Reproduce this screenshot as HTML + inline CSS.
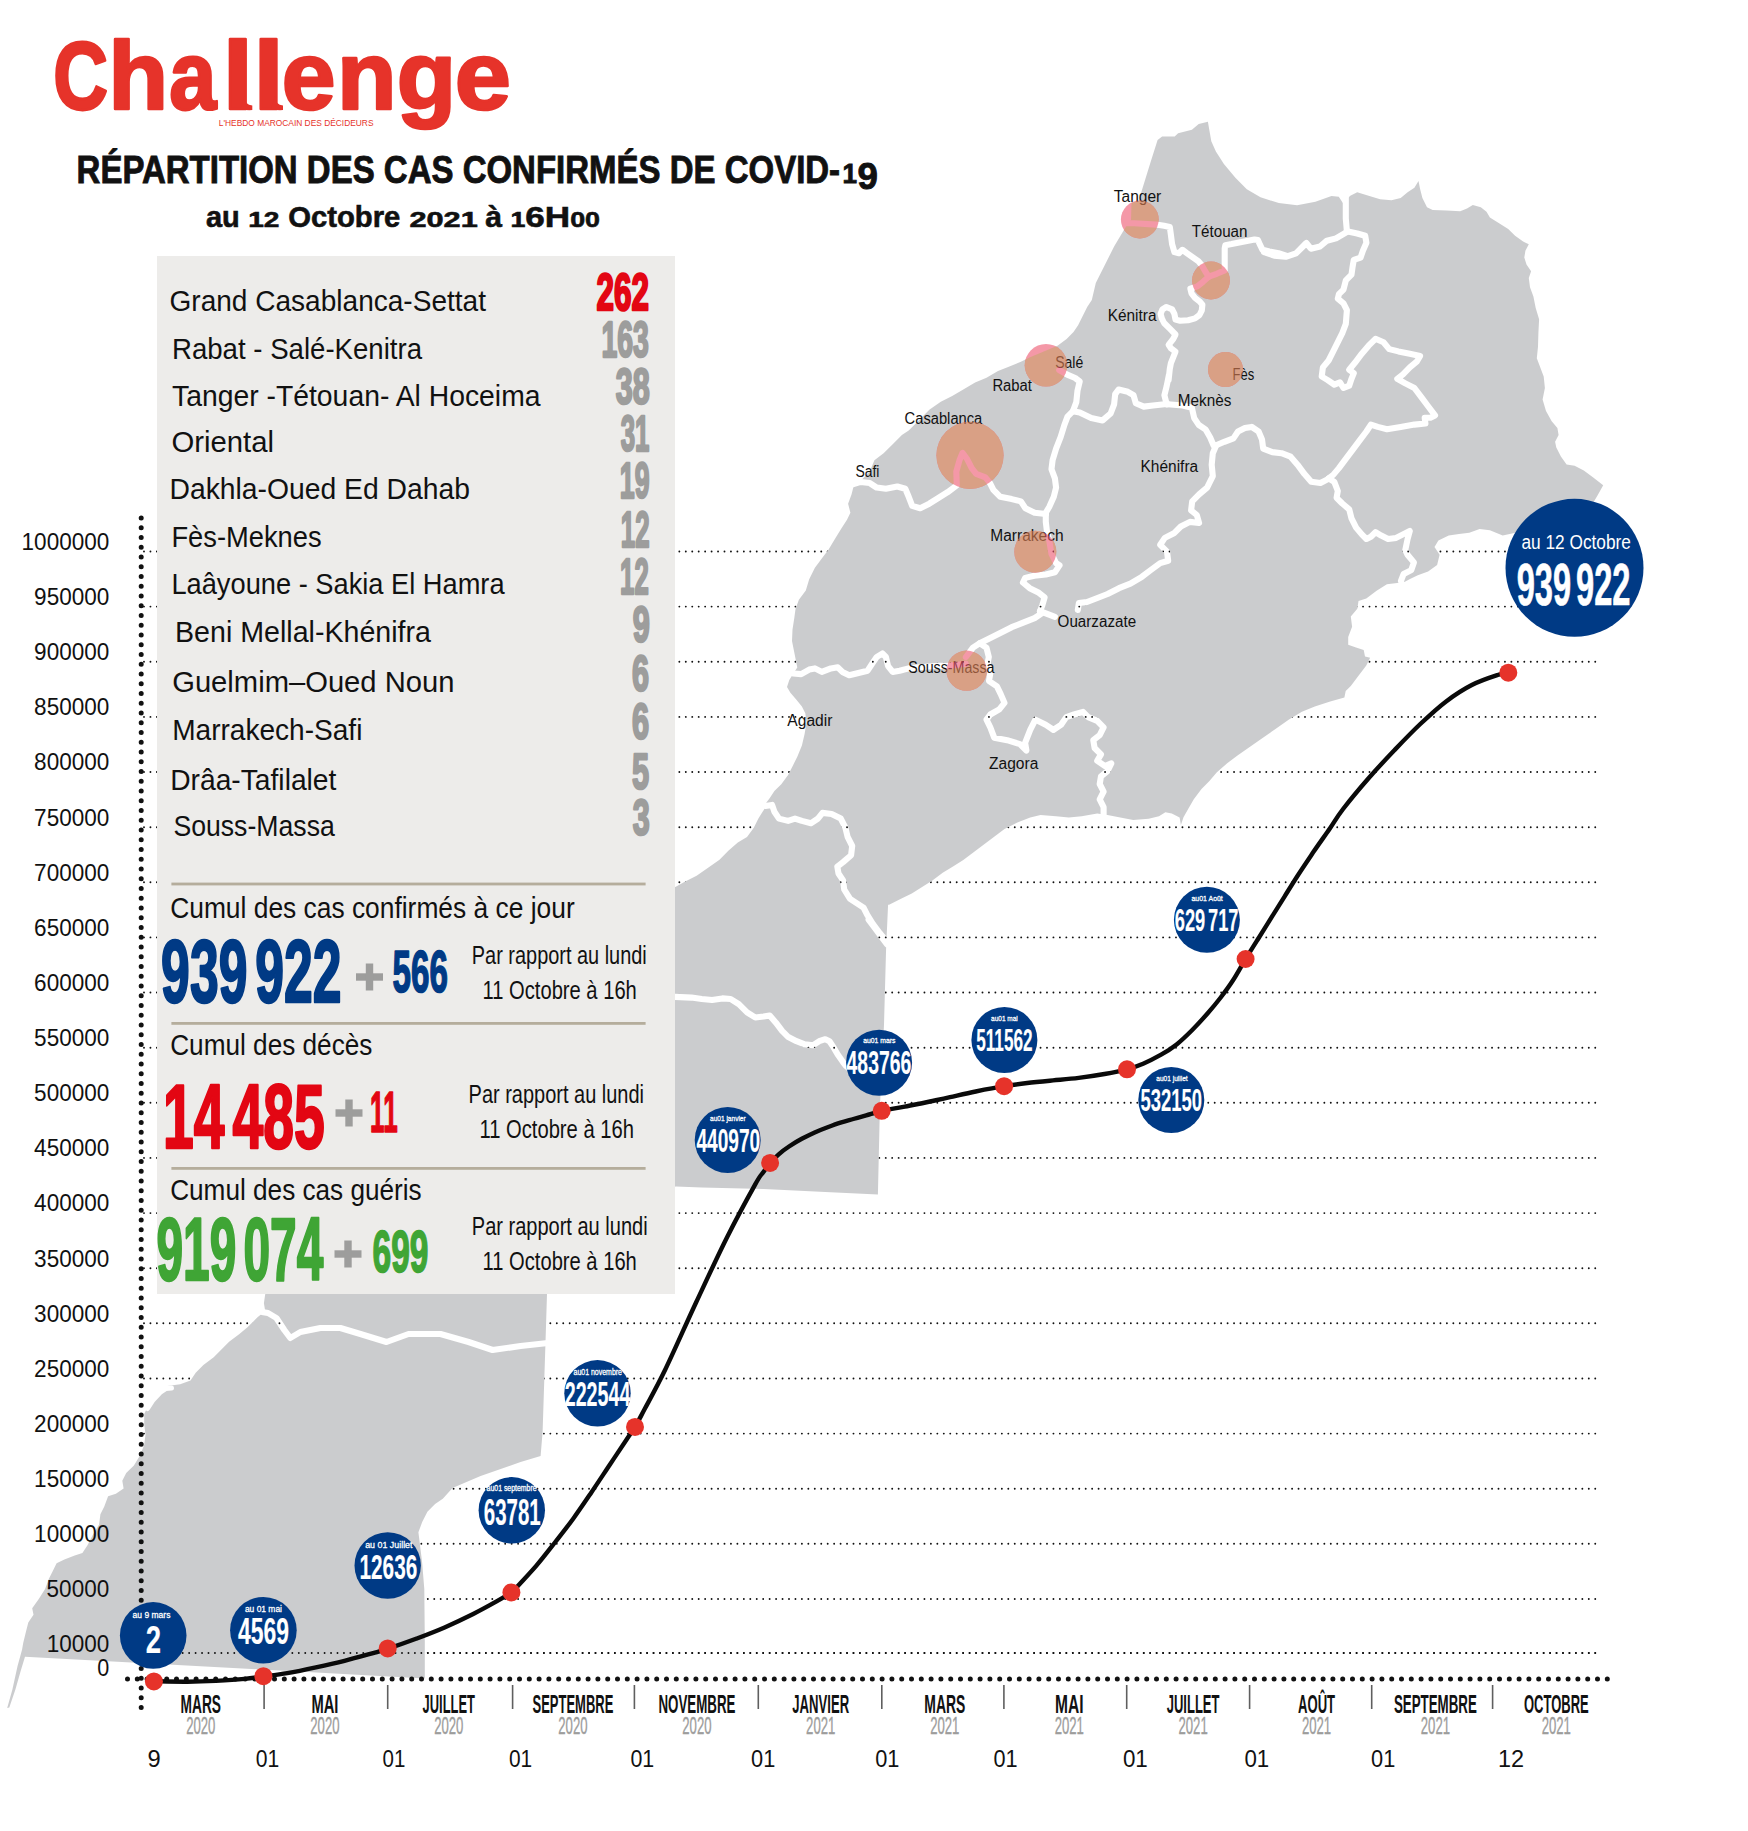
<!DOCTYPE html>
<html><head><meta charset="utf-8"><title>Covid-19 Maroc</title>
<style>html,body{margin:0;padding:0;background:#fff}svg{display:block}</style></head>
<body>
<svg width="1748" height="1831" viewBox="0 0 1748 1831" font-family='"Liberation Sans", sans-serif'>
<rect width="1748" height="1831" fill="#fff"/>
<defs>
<mask id="mapmask" maskUnits="userSpaceOnUse" x="0" y="0" width="1748" height="1831">
<polygon points="1207.9,121.7 1209.5,130.9 1211.3,141.2 1215.9,151.5 1223.9,164.1 1235.4,177.8 1246.8,189.2 1260.5,197.3 1278.8,203.0 1297.1,205.3 1315.4,201.8 1331.5,196.1 1338.8,196.8 1342.9,203.0 1350.3,195.8 1357.2,192.3 1368.6,195.8 1380.1,199.2 1391.5,200.3 1400.7,198.1 1407.6,192.3 1414.4,187.8 1418.5,180.9 1420.1,188.9 1422.4,198.1 1427.0,207.2 1432.7,210.0 1446.5,210.6 1460.2,211.3 1467.0,208.4 1472.8,204.9 1480.8,207.2 1486.5,211.8 1489.9,217.5 1499.1,223.2 1508.2,228.9 1515.1,235.8 1523.1,241.5 1528.8,244.3 1525.4,250.7 1524.3,257.6 1526.5,264.4 1531.1,271.3 1528.8,278.1 1530.0,287.3 1533.4,296.5 1535.7,307.9 1539.1,319.3 1538.4,333.1 1538.0,346.8 1536.8,358.2 1540.3,367.4 1543.7,376.5 1544.9,388.0 1542.6,399.4 1546.0,410.9 1551.7,421.2 1557.4,428.0 1558.6,434.9 1555.1,441.8 1556.3,447.5 1560.9,456.6 1566.6,464.6 1574.6,465.8 1583.8,470.4 1592.9,477.2 1603.2,485.2 1597.5,495.5 1594.1,501.3 1575.0,520.0 1502.7,535.4 1489.9,530.2 1479.6,528.9 1469.3,532.8 1459.0,534.1 1448.7,535.4 1438.4,540.5 1434.5,546.9 1439.6,554.7 1437.1,565.0 1428.1,571.4 1417.8,575.3 1410.0,579.1 1404.9,581.7 1397.2,583.0 1386.9,584.3 1376.6,590.7 1366.3,598.4 1358.5,601.0 1357.3,608.7 1350.8,616.5 1352.1,626.8 1348.2,637.1 1348.2,644.8 1356.0,647.4 1363.7,649.9 1365.0,656.4 1370.1,657.7 1366.3,665.4 1358.5,675.7 1350.8,686.0 1345.7,691.1 1344.4,697.6 1330.2,701.4 1314.8,706.6 1301.9,711.7 1289.0,719.4 1276.2,728.5 1263.3,737.5 1250.4,746.5 1237.5,755.5 1227.2,763.2 1216.9,772.2 1209.2,781.2 1201.5,789.0 1193.8,799.3 1188.6,808.3 1183.5,817.3 1180.9,825.0 1179.6,817.5 1171.8,813.6 1165.4,812.3 1159.0,816.2 1148.7,818.8 1133.2,820.0 1120.3,817.5 1107.5,814.9 1097.2,813.6 1081.7,816.2 1068.8,817.5 1056.0,816.2 1040.5,814.9 1030.2,817.5 1017.4,822.6 1004.5,829.1 994.2,836.8 983.9,844.5 973.6,852.2 963.3,859.9 953.0,866.4 942.7,872.8 932.4,880.5 922.1,887.0 911.8,893.4 901.5,898.6 888.6,905.0 888.1,904.3 886.1,948.6 884.0,1024.7 879.9,1107.1 877.9,1194.6 825.3,1192.0 763.6,1189.1 701.8,1187.4 676.0,1186.4 600.0,1200.0 547.0,1290.0 547.0,1294.0 545.5,1342.0 542.6,1432.0 540.6,1456.0 520.6,1462.0 480.6,1476.0 452.5,1488.0 442.8,1498.8 435.1,1504.0 427.4,1511.7 422.2,1522.0 418.4,1532.3 419.7,1542.6 422.2,1563.2 424.3,1589.0 424.8,1640.5 424.8,1678.5 257.5,1669.3 25.0,1656.7 20.6,1671.3 15.4,1689.4 9.3,1707.4 7.2,1707.9 12.4,1689.4 17.5,1666.2 22.1,1649.5 23.2,1643.0 25.7,1632.7 28.3,1622.4 33.5,1614.7 32.2,1608.3 38.6,1599.3 45.1,1589.0 48.9,1578.7 52.8,1570.9 56.6,1563.2 64.4,1559.4 74.7,1555.5 82.4,1552.9 87.5,1545.2 92.7,1534.9 99.1,1524.6 100.4,1514.3 104.3,1506.6 108.1,1496.3 115.9,1493.7 123.6,1488.5 122.3,1480.8 126.2,1473.1 133.9,1465.4 140.3,1455.1 144.2,1444.8 145.5,1434.5 144.2,1424.2 144.2,1413.9 149.3,1403.6 157.1,1393.3 167.4,1386.1 180.2,1384.3 190.5,1380.4 195.7,1372.7 203.4,1365.0 213.7,1357.2 221.4,1349.5 229.1,1341.8 239.4,1334.1 247.2,1327.6 253.6,1321.2 257.5,1317.3 265.2,1310.9 263.9,1303.2 265.2,1294.2 674.9,887.2 685.2,881.5 696.6,875.8 708.1,867.8 719.5,859.8 728.6,850.6 737.8,842.6 747.0,836.9 753.8,827.7 758.4,818.6 764.1,809.4 766.4,802.6 769.8,798.0 774.4,791.1 781.3,784.3 788.1,775.1 792.7,765.9 797.3,756.8 801.9,745.4 804.6,733.9 806.5,722.5 805.3,713.3 801.9,706.5 796.2,699.6 790.4,692.7 787.0,687.0 789.3,680.1 792.7,674.4 797.3,667.6 794.3,652.4 792.0,641.0 792.5,629.5 794.3,618.1 795.5,608.9 798.9,599.8 805.8,590.6 809.2,579.2 814.9,567.7 821.8,558.6 828.6,549.4 835.5,538.0 841.2,528.8 847.0,519.7 850.4,512.8 848.1,503.7 851.5,494.5 853.8,485.4 860.7,480.8 869.8,471.6 874.4,460.2 883.6,453.3 892.7,444.2 901.9,435.0 908.7,430.4 920.2,419.0 929.3,409.8 940.8,401.8 952.2,396.1 963.7,389.2 975.1,382.4 986.5,377.8 998.0,370.9 1009.4,366.4 1020.9,361.8 1030.0,357.2 1043.8,351.5 1057.5,345.8 1066.6,338.9 1073.5,332.0 1078.1,325.2 1082.7,316.0 1087.2,306.9 1091.8,300.0 1095.8,283.1 1114.1,246.5 1127.8,223.6 1131.0,220.1 1131.5,203.0 1139.2,200.5 1141.5,191.5 1150.7,161.8 1157.6,140.0 1162.1,136.6 1174.7,136.6 1178.1,133.2 1191.9,129.7 1198.7,124.0" fill="#fff"/>
<polyline points="1345.8,192.3 1345.8,207.2 1345.8,218.6 1346.9,231.2" fill="none" stroke="#000" stroke-width="6.1" stroke-linejoin="round" stroke-linecap="round"/>
<polyline points="1346.9,231.2 1357.2,233.5 1365.2,235.8 1366.4,242.7 1362.9,250.7 1360.6,257.6 1353.8,259.8 1352.6,266.7 1351.5,274.7 1345.8,280.4 1343.5,289.6 1338.9,294.2 1337.8,298.7 1343.5,303.3 1346.9,310.2 1345.8,323.9 1342.3,333.1 1337.8,342.2 1333.2,351.4 1328.6,360.5 1322.9,367.4 1321.7,376.5 1327.5,380.0 1334.3,384.6 1340.0,382.3 1343.5,388.0 1349.2,385.7 1351.5,378.8 1353.8,373.1 1349.2,369.7 1354.9,362.8 1361.8,353.7 1368.6,345.7 1375.5,338.8 1383.5,342.2 1389.2,349.1 1398.4,351.4 1409.8,353.7 1420.1,355.9 1416.7,361.7 1409.8,367.4 1403.0,374.3 1397.3,378.8 1405.3,383.4 1414.4,388.0 1421.3,397.1 1428.1,406.3 1435.0,415.4 1430.4,417.7 1424.7,417.7 1425.4,423.5 1414.4,424.6 1400.7,426.9 1387.0,429.2 1377.8,426.9 1370.9,424.6 1366.4,431.5 1359.5,440.6 1352.6,449.8 1345.8,458.9 1338.9,468.1 1333.2,474.9 1328.6,478.4" fill="none" stroke="#000" stroke-width="6.1" stroke-linejoin="round" stroke-linecap="round"/>
<polyline points="1329.5,478.4 1320.4,483.0 1311.2,481.8 1304.3,473.8 1297.5,464.7 1290.6,456.7 1281.5,453.2 1272.3,452.1 1263.2,448.6 1262.0,439.5 1258.6,431.5 1251.7,426.9 1244.9,428.1 1238.0,431.5 1233.4,438.4 1224.3,441.8 1216.2,445.2" fill="none" stroke="#000" stroke-width="6.1" stroke-linejoin="round" stroke-linecap="round"/>
<polyline points="1328.6,478.4 1334.3,481.8 1337.8,491.0 1336.6,497.8 1342.3,503.5 1349.2,509.3 1351.5,518.4 1356.1,527.6 1361.8,534.4 1366.4,539.0 1370.9,536.7 1375.5,532.2 1381.2,535.6 1388.1,539.0 1396.1,537.9 1403.0,534.4 1409.8,531.0 1407.6,539.0 1405.3,550.0 1407.5,554.7 1413.9,562.4 1411.3,570.1 1403.6,574.0 1401.0,580.9" fill="none" stroke="#000" stroke-width="6.1" stroke-linejoin="round" stroke-linecap="round"/>
<polyline points="1347.5,231.6 1336.0,238.4 1326.9,240.7 1320.0,246.5 1310.9,248.7 1306.3,243.0 1302.9,246.5 1296.0,253.3 1285.7,256.8 1274.3,255.6 1264.0,252.2 1287.6,256.1 1278.5,253.2 1269.3,251.5 1262.5,249.8 1260.2,245.2 1257.9,240.1 1254.5,239.5 1243.0,241.8 1231.6,244.1 1225.3,245.2 1224.7,248.6 1224.7,260.1 1224.7,270.4 1216.7,273.8 1208.7,276.7" fill="none" stroke="#000" stroke-width="6.1" stroke-linejoin="round" stroke-linecap="round"/>
<polyline points="1126.3,223.2 1134.3,223.2 1156.1,224.6 1164.1,225.8 1169.8,226.9 1170.9,234.9 1172.1,244.1 1174.4,252.1 1178.9,253.2 1182.4,249.8 1187.0,253.2 1192.7,257.2 1198.4,261.2 1201.8,265.2 1205.3,271.5 1208.7,276.7" fill="none" stroke="#000" stroke-width="6.1" stroke-linejoin="round" stroke-linecap="round"/>
<polyline points="1208.7,276.7 1203.0,281.8 1197.3,286.4 1190.4,288.7 1191.5,293.3 1195.0,297.8 1199.5,301.3 1202.4,304.7 1201.8,310.4 1199.5,315.0 1195.0,318.4 1188.1,320.2 1180.1,320.7 1175.5,319.6 1174.4,313.9 1172.1,309.3 1166.4,307.0 1162.4,309.3 1160.6,313.9 1161.8,318.4 1164.1,323.0 1169.8,328.7 1175.5,334.5 1173.2,339.0 1168.6,344.8 1170.9,348.2 1175.5,351.6 1173.2,357.3 1170.9,363.1 1169.8,368.8 1168.6,380.0 1169.0,374.6 1166.7,386.0 1164.4,395.2 1166.7,404.3" fill="none" stroke="#000" stroke-width="6.1" stroke-linejoin="round" stroke-linecap="round"/>
<polyline points="1059.2,370.0 1067.2,374.6 1075.2,378.0 1079.7,381.5 1077.5,390.6 1076.3,402.1 1072.9,411.2 1073.2,410.9 1067.5,416.6 1064.1,425.8 1060.6,437.2 1056.1,448.6 1052.6,460.1 1051.5,469.2 1054.9,478.4 1056.1,487.6 1053.8,496.7 1049.2,507.0 1045.8,512.7 1045.8,521.9 1046.9,531.0 1049.2,540.2 1051.5,553.9 1056.1,563.1 1059.5,565.4 1054.9,572.2 1045.8,574.5 1034.3,575.7 1025.2,577.9 1022.9,582.5 1029.7,588.2 1038.9,592.8 1044.6,597.4 1042.3,605.4 1040.0,611.1" fill="none" stroke="#000" stroke-width="6.1" stroke-linejoin="round" stroke-linecap="round"/>
<polyline points="1072.9,411.2 1079.7,412.4 1091.2,418.1 1102.6,420.4 1110.6,413.5 1114.1,404.3 1115.2,394.1 1118.6,389.5 1127.8,391.8 1133.5,395.2 1135.8,403.2 1143.8,406.6 1153.0,405.5 1164.4,404.3 1167.8,404.3" fill="none" stroke="#000" stroke-width="6.1" stroke-linejoin="round" stroke-linecap="round"/>
<polyline points="1167.8,404.3 1182.7,405.5 1191.9,407.8 1194.2,418.1 1198.7,424.9 1205.6,429.5 1210.2,437.5 1213.6,445.5" fill="none" stroke="#000" stroke-width="6.1" stroke-linejoin="round" stroke-linecap="round"/>
<polyline points="1216.2,445.2 1212.8,453.2 1211.7,464.7 1212.8,476.1 1207.1,487.6 1199.1,494.4 1192.2,501.3 1191.1,510.4 1196.8,515.0 1199.1,523.0 1189.9,521.9 1180.8,526.5 1173.9,533.3 1164.8,537.9 1160.2,544.8 1167.0,551.6 1168.2,560.8 1160.2,563.1 1151.0,569.9 1141.9,576.8 1130.4,583.7 1119.0,588.2 1107.6,594.0 1096.1,598.5 1087.0,602.0 1078.9,603.1 1077.8,610.0" fill="none" stroke="#000" stroke-width="6.1" stroke-linejoin="round" stroke-linecap="round"/>
<polyline points="1046.0,514.0 1034.6,512.8 1025.4,508.2 1020.9,501.4 1011.7,499.1 1000.3,496.8 993.4,489.9 990.0,483.1 985.4,477.3 976.2,473.9 971.7,468.2 967.1,459.0 962.5,452.9 959.5,460.2 956.3,471.6 956.8,485.4 947.6,492.2 938.5,497.9 929.3,503.7 920.2,508.2 912.2,505.9 908.7,496.8 905.3,488.8 897.3,486.5 885.9,488.8 876.7,487.6 869.8,483.1 860.7,481.9 852.7,484.2" fill="none" stroke="#000" stroke-width="6.1" stroke-linejoin="round" stroke-linecap="round"/>
<polyline points="1040.0,611.1 1045.8,613.4 1054.9,616.8" fill="none" stroke="#000" stroke-width="6.1" stroke-linejoin="round" stroke-linecap="round"/>
<polyline points="1041.5,613.5 1034.6,618.1 1023.2,622.7 1011.7,627.2 1000.3,633.0 988.8,638.7 979.7,643.2 972.8,647.8 965.9,657.0" fill="none" stroke="#000" stroke-width="6.1" stroke-linejoin="round" stroke-linecap="round"/>
<polyline points="965.9,663.8 946.5,666.1 938.5,665.7 920.2,667.3 908.7,668.4 899.6,670.7 892.7,671.9 888.1,666.1 885.9,657.0 882.4,653.5 876.7,657.0 872.1,663.8 867.6,670.7 858.4,673.0 849.2,675.3 842.4,671.9 837.8,667.3 830.9,668.4 821.8,671.9 814.9,668.4 809.2,669.6 801.2,674.1 793.2,673.5" fill="none" stroke="#000" stroke-width="6.1" stroke-linejoin="round" stroke-linecap="round"/>
<polyline points="979.7,643.2 986.5,647.8 988.8,657.0 987.7,663.0 990.3,673.3 989.0,681.0 996.8,686.2 1000.6,693.9 1004.5,702.9 999.3,709.3 990.3,714.5 986.5,719.6 990.3,727.4 994.2,737.7 1007.1,740.2 1019.9,744.1 1026.4,750.5 1025.1,742.8 1030.2,729.9 1035.4,719.6 1045.7,724.8 1053.4,729.9 1061.1,724.8 1066.3,717.1 1074.0,714.5 1083.0,711.9 1088.2,717.1 1097.2,720.9 1103.6,727.4 1099.7,735.1 1093.3,740.2 1094.6,748.0 1101.0,754.4 1097.2,760.8 1104.9,766.0 1111.3,763.4 1107.5,771.1 1101.0,776.3 1099.7,784.0 1103.6,791.7 1099.7,799.4 1103.6,807.2 1103.6,817.5" fill="none" stroke="#000" stroke-width="6.1" stroke-linejoin="round" stroke-linecap="round"/>
<polyline points="765.3,806.0 772.1,804.9 774.4,811.7 779.0,818.6 788.1,820.9 795.0,818.6 801.9,820.9 811.0,823.2 817.9,818.6 822.5,812.9 831.6,814.0 840.8,818.6 845.4,827.7 847.6,836.9 852.2,846.0 851.1,855.2 843.1,862.1 837.3,866.6 838.5,873.5 843.1,880.4 844.2,889.5 849.9,898.7 856.8,903.2 863.7,907.8 867.1,914.7 872.8,923.8 879.7,933.0 885.4,939.9 868.6,919.7 874.8,928.0 880.9,936.2 887.1,944.4" fill="none" stroke="#000" stroke-width="6.1" stroke-linejoin="round" stroke-linecap="round"/>
<polyline points="675.0,996.9 691.5,997.6 701.8,999.0 712.1,1000.0 722.4,998.4 730.6,999.0 738.8,1004.2 747.1,1012.4 755.3,1017.5 763.6,1016.5 769.7,1015.5 775.9,1022.7 782.1,1030.9 788.3,1037.1 796.5,1041.2 804.7,1044.3 813.0,1045.3 819.2,1041.2 825.3,1039.2 829.5,1041.2 833.6,1047.4 837.7,1054.6 842.8,1061.8 845.9,1065.9 866.5,1082.4 883.0,1091.7" fill="none" stroke="#000" stroke-width="6.1" stroke-linejoin="round" stroke-linecap="round"/>
<polyline points="262.0,1312.0 268.0,1313.0 276.4,1318.0 284.3,1330.0 290.3,1338.0 300.4,1332.0 320.4,1328.0 340.4,1328.0 360.4,1334.0 386.5,1342.0 408.5,1334.0 440.5,1334.0 468.6,1342.0 492.6,1350.0 520.6,1346.0 548.0,1343.0" fill="none" stroke="#000" stroke-width="6.1" stroke-linejoin="round" stroke-linecap="round"/>
<polyline points="147.5,1408.5 153,1400 160,1392.5 166,1388.5 171.5,1388" fill="none" stroke="#000" stroke-width="5" stroke-linecap="round" stroke-linejoin="round"/>
</mask>
</defs>
<line x1="144" y1="551.5" x2="1599" y2="551.5" stroke="#111" stroke-width="1.9" stroke-dasharray="0 6.45" stroke-linecap="round"/>
<line x1="144" y1="606.6" x2="1599" y2="606.6" stroke="#111" stroke-width="1.9" stroke-dasharray="0 6.45" stroke-linecap="round"/>
<line x1="144" y1="661.8" x2="1599" y2="661.8" stroke="#111" stroke-width="1.9" stroke-dasharray="0 6.45" stroke-linecap="round"/>
<line x1="144" y1="716.9" x2="1599" y2="716.9" stroke="#111" stroke-width="1.9" stroke-dasharray="0 6.45" stroke-linecap="round"/>
<line x1="144" y1="772.0" x2="1599" y2="772.0" stroke="#111" stroke-width="1.9" stroke-dasharray="0 6.45" stroke-linecap="round"/>
<line x1="144" y1="827.2" x2="1599" y2="827.2" stroke="#111" stroke-width="1.9" stroke-dasharray="0 6.45" stroke-linecap="round"/>
<line x1="144" y1="882.3" x2="1599" y2="882.3" stroke="#111" stroke-width="1.9" stroke-dasharray="0 6.45" stroke-linecap="round"/>
<line x1="144" y1="937.4" x2="1599" y2="937.4" stroke="#111" stroke-width="1.9" stroke-dasharray="0 6.45" stroke-linecap="round"/>
<line x1="144" y1="992.5" x2="1599" y2="992.5" stroke="#111" stroke-width="1.9" stroke-dasharray="0 6.45" stroke-linecap="round"/>
<line x1="144" y1="1047.7" x2="1599" y2="1047.7" stroke="#111" stroke-width="1.9" stroke-dasharray="0 6.45" stroke-linecap="round"/>
<line x1="144" y1="1102.8" x2="1599" y2="1102.8" stroke="#111" stroke-width="1.9" stroke-dasharray="0 6.45" stroke-linecap="round"/>
<line x1="144" y1="1157.9" x2="1599" y2="1157.9" stroke="#111" stroke-width="1.9" stroke-dasharray="0 6.45" stroke-linecap="round"/>
<line x1="144" y1="1213.1" x2="1599" y2="1213.1" stroke="#111" stroke-width="1.9" stroke-dasharray="0 6.45" stroke-linecap="round"/>
<line x1="144" y1="1268.2" x2="1599" y2="1268.2" stroke="#111" stroke-width="1.9" stroke-dasharray="0 6.45" stroke-linecap="round"/>
<line x1="144" y1="1323.3" x2="1599" y2="1323.3" stroke="#111" stroke-width="1.9" stroke-dasharray="0 6.45" stroke-linecap="round"/>
<line x1="144" y1="1378.5" x2="1599" y2="1378.5" stroke="#111" stroke-width="1.9" stroke-dasharray="0 6.45" stroke-linecap="round"/>
<line x1="144" y1="1433.6" x2="1599" y2="1433.6" stroke="#111" stroke-width="1.9" stroke-dasharray="0 6.45" stroke-linecap="round"/>
<line x1="144" y1="1488.7" x2="1599" y2="1488.7" stroke="#111" stroke-width="1.9" stroke-dasharray="0 6.45" stroke-linecap="round"/>
<line x1="144" y1="1543.8" x2="1599" y2="1543.8" stroke="#111" stroke-width="1.9" stroke-dasharray="0 6.45" stroke-linecap="round"/>
<line x1="144" y1="1599.0" x2="1599" y2="1599.0" stroke="#111" stroke-width="1.9" stroke-dasharray="0 6.45" stroke-linecap="round"/>
<line x1="144" y1="1653.0" x2="1599" y2="1653.0" stroke="#111" stroke-width="1.9" stroke-dasharray="0 6.45" stroke-linecap="round"/>
<rect x="0" y="100" width="1748" height="1640" fill="#cbccce" mask="url(#mapmask)"/>
<line x1="144" y1="1653" x2="1599" y2="1653" stroke="#111" stroke-width="1.9" stroke-dasharray="0 6.45" stroke-linecap="round"/>
<text x="1113.7" y="202.1" font-size="15.80" fill="#111" font-weight="normal" text-anchor="start" textLength="47.6" lengthAdjust="spacingAndGlyphs" >Tanger</text>
<text x="1191.8" y="237.4" font-size="15.80" fill="#111" font-weight="normal" text-anchor="start" textLength="55.7" lengthAdjust="spacingAndGlyphs" >Tétouan</text>
<text x="1107.7" y="321.0" font-size="15.80" fill="#111" font-weight="normal" text-anchor="start" textLength="48.8" lengthAdjust="spacingAndGlyphs" >Kénitra</text>
<text x="1055.2" y="368.3" font-size="15.80" fill="#111" font-weight="normal" text-anchor="start" textLength="28.1" lengthAdjust="spacingAndGlyphs" >Salé</text>
<text x="992.4" y="391.2" font-size="15.80" fill="#111" font-weight="normal" text-anchor="start" textLength="39.6" lengthAdjust="spacingAndGlyphs" >Rabat</text>
<text x="1232.6" y="380.3" font-size="15.80" fill="#111" font-weight="normal" text-anchor="start" textLength="21.7" lengthAdjust="spacingAndGlyphs" >Fès</text>
<text x="1177.8" y="405.6" font-size="15.80" fill="#111" font-weight="normal" text-anchor="start" textLength="53.6" lengthAdjust="spacingAndGlyphs" >Meknès</text>
<text x="904.6" y="424.4" font-size="15.80" fill="#111" font-weight="normal" text-anchor="start" textLength="77.7" lengthAdjust="spacingAndGlyphs" >Casablanca</text>
<text x="855.4" y="476.5" font-size="15.80" fill="#111" font-weight="normal" text-anchor="start" textLength="24.0" lengthAdjust="spacingAndGlyphs" >Safi</text>
<text x="1140.5" y="472.4" font-size="15.80" fill="#111" font-weight="normal" text-anchor="start" textLength="57.7" lengthAdjust="spacingAndGlyphs" >Khénifra</text>
<text x="990.3" y="540.5" font-size="15.80" fill="#111" font-weight="normal" text-anchor="start" textLength="73.3" lengthAdjust="spacingAndGlyphs" >Marrakech</text>
<text x="1057.6" y="626.6" font-size="15.80" fill="#111" font-weight="normal" text-anchor="start" textLength="78.5" lengthAdjust="spacingAndGlyphs" >Ouarzazate</text>
<text x="908.3" y="673.1" font-size="15.80" fill="#111" font-weight="normal" text-anchor="start" textLength="86.2" lengthAdjust="spacingAndGlyphs" >Souss-Massa</text>
<text x="787.3" y="725.9" font-size="15.80" fill="#111" font-weight="normal" text-anchor="start" textLength="45.1" lengthAdjust="spacingAndGlyphs" >Agadir</text>
<text x="989.0" y="768.8" font-size="15.80" fill="#111" font-weight="normal" text-anchor="start" textLength="49.3" lengthAdjust="spacingAndGlyphs" >Zagora</text>
<g opacity="0.6">
<circle cx="1139.8" cy="219.5" r="18.9" fill="#ed556e"/>
<circle cx="1211" cy="280.5" r="18.9" fill="#ed556e"/>
<circle cx="1225.5" cy="369.5" r="17.5" fill="#ed556e"/>
<circle cx="1046" cy="365.2" r="21.3" fill="#ed556e"/>
<circle cx="970" cy="455.3" r="33.6" fill="#ed556e"/>
<circle cx="1035.3" cy="551.7" r="21" fill="#ed556e"/>
<circle cx="966.6" cy="670.7" r="20.1" fill="#ed556e"/>
<g mask="url(#mapmask)">
<circle cx="1139.8" cy="219.5" r="18.9" fill="#e38356"/>
<circle cx="1211" cy="280.5" r="18.9" fill="#e38356"/>
<circle cx="1225.5" cy="369.5" r="17.5" fill="#e38356"/>
<circle cx="1046" cy="365.2" r="21.3" fill="#e38356"/>
<circle cx="970" cy="455.3" r="33.6" fill="#e38356"/>
<circle cx="1035.3" cy="551.7" r="21" fill="#e38356"/>
<circle cx="966.6" cy="670.7" r="20.1" fill="#e38356"/>
</g>
</g>
<rect x="157" y="256" width="518" height="1038" fill="#edecea"/>
<text x="169.5" y="310.5" font-size="30.00" fill="#111" font-weight="normal" text-anchor="start" textLength="316.5" lengthAdjust="spacingAndGlyphs" >Grand Casablanca-Settat</text>
<text x="172.0" y="358.5" font-size="30.00" fill="#111" font-weight="normal" text-anchor="start" textLength="250.0" lengthAdjust="spacingAndGlyphs" >Rabat - Salé-Kenitra</text>
<text x="172.0" y="406.0" font-size="30.00" fill="#111" font-weight="normal" text-anchor="start" textLength="368.5" lengthAdjust="spacingAndGlyphs" >Tanger -Tétouan- Al Hoceima</text>
<text x="171.4" y="452.0" font-size="30.00" fill="#111" font-weight="normal" text-anchor="start" textLength="102.6" lengthAdjust="spacingAndGlyphs" >Oriental</text>
<text x="169.5" y="499.0" font-size="30.00" fill="#111" font-weight="normal" text-anchor="start" textLength="300.5" lengthAdjust="spacingAndGlyphs" >Dakhla-Oued Ed Dahab</text>
<text x="171.4" y="547.3" font-size="30.00" fill="#111" font-weight="normal" text-anchor="start" textLength="150.2" lengthAdjust="spacingAndGlyphs" >Fès-Meknes</text>
<text x="171.4" y="594.2" font-size="30.00" fill="#111" font-weight="normal" text-anchor="start" textLength="333.2" lengthAdjust="spacingAndGlyphs" >Laâyoune - Sakia El Hamra</text>
<text x="175.0" y="642.2" font-size="30.00" fill="#111" font-weight="normal" text-anchor="start" textLength="256.0" lengthAdjust="spacingAndGlyphs" >Beni Mellal-Khénifra</text>
<text x="172.2" y="691.5" font-size="30.00" fill="#111" font-weight="normal" text-anchor="start" textLength="282.3" lengthAdjust="spacingAndGlyphs" >Guelmim–Oued Noun</text>
<text x="172.2" y="740.3" font-size="30.00" fill="#111" font-weight="normal" text-anchor="start" textLength="190.2" lengthAdjust="spacingAndGlyphs" >Marrakech-Safi</text>
<text x="170.2" y="789.6" font-size="30.00" fill="#111" font-weight="normal" text-anchor="start" textLength="166.2" lengthAdjust="spacingAndGlyphs" >Drâa-Tafilalet</text>
<text x="173.4" y="835.7" font-size="30.00" fill="#111" font-weight="normal" text-anchor="start" textLength="161.4" lengthAdjust="spacingAndGlyphs" >Souss-Massa</text>
<text x="596.5" y="310.1" font-size="51.45" fill="#e30613" font-weight="bold" text-anchor="start" textLength="52.5" lengthAdjust="spacingAndGlyphs" stroke="#e30613" stroke-width="2.57" stroke-linejoin="round" word-spacing="-6.7" >262</text>
<text x="601.4" y="357.4" font-size="50.40" fill="#9d9d9c" font-weight="bold" text-anchor="start" textLength="47.4" lengthAdjust="spacingAndGlyphs" stroke="#9d9d9c" stroke-width="2.52" stroke-linejoin="round" word-spacing="-6.6" >163</text>
<text x="615.7" y="404.2" font-size="49.87" fill="#9d9d9c" font-weight="bold" text-anchor="start" textLength="34.0" lengthAdjust="spacingAndGlyphs" stroke="#9d9d9c" stroke-width="2.49" stroke-linejoin="round" word-spacing="-6.5" >38</text>
<text x="620.7" y="451.2" font-size="50.66" fill="#9d9d9c" font-weight="bold" text-anchor="start" textLength="28.7" lengthAdjust="spacingAndGlyphs" stroke="#9d9d9c" stroke-width="2.53" stroke-linejoin="round" word-spacing="-6.6" >31</text>
<text x="619.8" y="498.4" font-size="50.79" fill="#9d9d9c" font-weight="bold" text-anchor="start" textLength="29.7" lengthAdjust="spacingAndGlyphs" stroke="#9d9d9c" stroke-width="2.54" stroke-linejoin="round" word-spacing="-6.6" >19</text>
<text x="620.8" y="547.1" font-size="50.13" fill="#9d9d9c" font-weight="bold" text-anchor="start" textLength="28.7" lengthAdjust="spacingAndGlyphs" stroke="#9d9d9c" stroke-width="2.51" stroke-linejoin="round" word-spacing="-6.5" >12</text>
<text x="620.1" y="593.6" font-size="50.26" fill="#9d9d9c" font-weight="bold" text-anchor="start" textLength="28.6" lengthAdjust="spacingAndGlyphs" stroke="#9d9d9c" stroke-width="2.51" stroke-linejoin="round" word-spacing="-6.5" >12</text>
<text x="632.7" y="642.4" font-size="50.13" fill="#9d9d9c" font-weight="bold" text-anchor="start" textLength="17.1" lengthAdjust="spacingAndGlyphs" stroke="#9d9d9c" stroke-width="2.51" stroke-linejoin="round" word-spacing="-6.5" >9</text>
<text x="631.9" y="690.5" font-size="50.26" fill="#9d9d9c" font-weight="bold" text-anchor="start" textLength="17.0" lengthAdjust="spacingAndGlyphs" stroke="#9d9d9c" stroke-width="2.51" stroke-linejoin="round" word-spacing="-6.5" >6</text>
<text x="631.9" y="739.3" font-size="50.13" fill="#9d9d9c" font-weight="bold" text-anchor="start" textLength="17.1" lengthAdjust="spacingAndGlyphs" stroke="#9d9d9c" stroke-width="2.51" stroke-linejoin="round" word-spacing="-6.5" >6</text>
<text x="631.9" y="788.6" font-size="50.13" fill="#9d9d9c" font-weight="bold" text-anchor="start" textLength="17.1" lengthAdjust="spacingAndGlyphs" stroke="#9d9d9c" stroke-width="2.51" stroke-linejoin="round" word-spacing="-6.5" >5</text>
<text x="632.7" y="834.7" font-size="50.26" fill="#9d9d9c" font-weight="bold" text-anchor="start" textLength="17.0" lengthAdjust="spacingAndGlyphs" stroke="#9d9d9c" stroke-width="2.51" stroke-linejoin="round" word-spacing="-6.5" >3</text>
<rect x="171.4" y="882.6" width="474.2" height="2.8" fill="#b5ad9c"/>
<rect x="171.4" y="1022.0" width="474.2" height="2.8" fill="#b5ad9c"/>
<rect x="171.4" y="1167.0" width="474.2" height="2.8" fill="#b5ad9c"/>
<text x="170.2" y="918.1" font-size="29.00" fill="#111" font-weight="normal" text-anchor="start" textLength="404.5" lengthAdjust="spacingAndGlyphs" >Cumul des cas confirmés à ce jour</text>
<text x="161.1" y="1002.0" font-size="88.72" fill="#003a85" font-weight="bold" text-anchor="start" textLength="180.4" lengthAdjust="spacingAndGlyphs" stroke="#003a85" stroke-width="2.48" stroke-linejoin="round" word-spacing="-11.5" >939 922</text>
<rect x="356.0" y="973.3" width="27.0" height="7.4" fill="#9d9d9c"/>
<rect x="365.8" y="963.5" width="7.4" height="27.0" fill="#9d9d9c"/>
<text x="392.6" y="991.9" font-size="58.83" fill="#003a85" font-weight="bold" text-anchor="start" textLength="55.3" lengthAdjust="spacingAndGlyphs" stroke="#003a85" stroke-width="1.65" stroke-linejoin="round" word-spacing="-7.6" >566</text>
<text x="471.8" y="964.1" font-size="25.50" fill="#111" font-weight="normal" text-anchor="start" textLength="175.0" lengthAdjust="spacingAndGlyphs" >Par rapport au lundi</text>
<text x="482.6" y="999.0" font-size="25.50" fill="#111" font-weight="normal" text-anchor="start" textLength="154.2" lengthAdjust="spacingAndGlyphs" >11 Octobre à 16h</text>
<text x="170.2" y="1055.4" font-size="29.00" fill="#111" font-weight="normal" text-anchor="start" textLength="202.2" lengthAdjust="spacingAndGlyphs" >Cumul des décès</text>
<text x="163.0" y="1148.0" font-size="91.30" fill="#e30613" font-weight="bold" text-anchor="start" textLength="161.8" lengthAdjust="spacingAndGlyphs" stroke="#e30613" stroke-width="2.56" stroke-linejoin="round" word-spacing="-11.9" >14 485</text>
<rect x="335.5" y="1109.3" width="27.0" height="7.4" fill="#9d9d9c"/>
<rect x="345.3" y="1099.5" width="7.4" height="27.0" fill="#9d9d9c"/>
<text x="370.1" y="1131.6" font-size="58.15" fill="#e30613" font-weight="bold" text-anchor="start" textLength="27.5" lengthAdjust="spacingAndGlyphs" stroke="#e30613" stroke-width="1.63" stroke-linejoin="round" word-spacing="-7.6" >11</text>
<text x="468.6" y="1103.1" font-size="25.50" fill="#111" font-weight="normal" text-anchor="start" textLength="175.4" lengthAdjust="spacingAndGlyphs" >Par rapport au lundi</text>
<text x="479.4" y="1137.5" font-size="25.50" fill="#111" font-weight="normal" text-anchor="start" textLength="154.6" lengthAdjust="spacingAndGlyphs" >11 Octobre à 16h</text>
<text x="170.2" y="1199.6" font-size="29.00" fill="#111" font-weight="normal" text-anchor="start" textLength="251.5" lengthAdjust="spacingAndGlyphs" >Cumul des cas guéris</text>
<text x="156.5" y="1280.3" font-size="88.72" fill="#3fa535" font-weight="bold" text-anchor="start" textLength="166.8" lengthAdjust="spacingAndGlyphs" stroke="#3fa535" stroke-width="2.48" stroke-linejoin="round" word-spacing="-11.5" >919 074</text>
<rect x="334.5" y="1250.3" width="27.0" height="7.4" fill="#9d9d9c"/>
<rect x="344.3" y="1240.5" width="7.4" height="27.0" fill="#9d9d9c"/>
<text x="372.5" y="1272.2" font-size="58.83" fill="#3fa535" font-weight="bold" text-anchor="start" textLength="55.9" lengthAdjust="spacingAndGlyphs" stroke="#3fa535" stroke-width="1.65" stroke-linejoin="round" word-spacing="-7.6" >699</text>
<text x="471.8" y="1235.3" font-size="25.50" fill="#111" font-weight="normal" text-anchor="start" textLength="175.8" lengthAdjust="spacingAndGlyphs" >Par rapport au lundi</text>
<text x="482.6" y="1269.7" font-size="25.50" fill="#111" font-weight="normal" text-anchor="start" textLength="154.2" lengthAdjust="spacingAndGlyphs" >11 Octobre à 16h</text>
<g font-size="96.6" font-weight="bold" fill="#e6332a" stroke="#e6332a" stroke-width="2.6" stroke-linejoin="round">
<text transform="translate(53.19,108.9) scale(0.785,1)" vector-effect="non-scaling-stroke">C</text>
<text transform="translate(108.13,108.9) scale(1.016,1)" vector-effect="non-scaling-stroke">h</text>
<text transform="translate(169.25,108.9) scale(0.876,1)" vector-effect="non-scaling-stroke">a</text>
<text transform="translate(222.23,108.9) scale(1.164,1)" vector-effect="non-scaling-stroke">l</text>
<text transform="translate(252.93,108.9) scale(1.164,1)" vector-effect="non-scaling-stroke">l</text>
<text transform="translate(281.83,108.9) scale(1.001,1)" vector-effect="non-scaling-stroke">e</text>
<text transform="translate(337.06,108.9) scale(1.009,1)" vector-effect="non-scaling-stroke">n</text>
<text transform="translate(396.71,108.9) scale(1.006,1)" vector-effect="non-scaling-stroke">g</text>
<text transform="translate(454.76,108.9) scale(1.046,1)" vector-effect="non-scaling-stroke">e</text>
</g>
<path d="M244.3,96 q0.5,9 8,9.5 l0,4.6 q-6,0.6 -12,-1.2 z" fill="#e6332a"/>
<path d="M275.0,96 q0.5,9 8,9.5 l0,4.6 q-6,0.6 -12,-1.2 z" fill="#e6332a"/>
<text x="218.8" y="125.8" font-size="9.20" fill="#e6332a" font-weight="normal" text-anchor="start" textLength="154.7" lengthAdjust="spacingAndGlyphs" >L&#x27;HEBDO MAROCAIN DES DÉCIDEURS</text>
<g font-weight="bold" fill="#111" stroke="#111" stroke-width="0.9">
<text x="76.6" y="183" font-size="38.6" textLength="763.5" lengthAdjust="spacingAndGlyphs">RÉPARTITION DES CAS CONFIRMÉS DE COVID-</text>
<text x="842.6" y="183" font-size="28" textLength="14.5" lengthAdjust="spacingAndGlyphs">1</text>
<text x="857.6" y="189.3" font-size="36.4" textLength="20.4" lengthAdjust="spacingAndGlyphs">9</text>
</g>
<g font-weight="bold" fill="#111" stroke="#111" stroke-width="0.6">
<text x="206.0" y="226.6" font-size="29.8" textLength="33.8" lengthAdjust="spacingAndGlyphs">au</text>
<text x="248.2" y="226.6" font-size="22.8" textLength="31.2" lengthAdjust="spacingAndGlyphs">12</text>
<text x="288.2" y="226.6" font-size="29.8" textLength="112.2" lengthAdjust="spacingAndGlyphs">Octobre</text>
<text x="409.5" y="226.6" font-size="22.8" textLength="68.2" lengthAdjust="spacingAndGlyphs">2021</text>
<text x="485.2" y="226.6" font-size="29.8" textLength="16.8" lengthAdjust="spacingAndGlyphs">à</text>
<text x="510.4" y="226.6" font-size="29.8" textLength="89.6" lengthAdjust="spacingAndGlyphs"><tspan font-size="22.8">1</tspan>6H<tspan font-size="22.8">00</tspan></text>
</g>
<text x="21.6" y="549.8" font-size="23.00" fill="#111" font-weight="normal" text-anchor="start" textLength="87.7" lengthAdjust="spacingAndGlyphs" >1000000</text>
<text x="34.1" y="604.9" font-size="23.00" fill="#111" font-weight="normal" text-anchor="start" textLength="75.2" lengthAdjust="spacingAndGlyphs" >950000</text>
<text x="34.1" y="660.1" font-size="23.00" fill="#111" font-weight="normal" text-anchor="start" textLength="75.2" lengthAdjust="spacingAndGlyphs" >900000</text>
<text x="34.1" y="715.2" font-size="23.00" fill="#111" font-weight="normal" text-anchor="start" textLength="75.2" lengthAdjust="spacingAndGlyphs" >850000</text>
<text x="34.1" y="770.3" font-size="23.00" fill="#111" font-weight="normal" text-anchor="start" textLength="75.2" lengthAdjust="spacingAndGlyphs" >800000</text>
<text x="34.1" y="825.5" font-size="23.00" fill="#111" font-weight="normal" text-anchor="start" textLength="75.2" lengthAdjust="spacingAndGlyphs" >750000</text>
<text x="34.1" y="880.6" font-size="23.00" fill="#111" font-weight="normal" text-anchor="start" textLength="75.2" lengthAdjust="spacingAndGlyphs" >700000</text>
<text x="34.1" y="935.7" font-size="23.00" fill="#111" font-weight="normal" text-anchor="start" textLength="75.2" lengthAdjust="spacingAndGlyphs" >650000</text>
<text x="34.1" y="990.8" font-size="23.00" fill="#111" font-weight="normal" text-anchor="start" textLength="75.2" lengthAdjust="spacingAndGlyphs" >600000</text>
<text x="34.1" y="1046.0" font-size="23.00" fill="#111" font-weight="normal" text-anchor="start" textLength="75.2" lengthAdjust="spacingAndGlyphs" >550000</text>
<text x="34.1" y="1101.1" font-size="23.00" fill="#111" font-weight="normal" text-anchor="start" textLength="75.2" lengthAdjust="spacingAndGlyphs" >500000</text>
<text x="34.1" y="1156.2" font-size="23.00" fill="#111" font-weight="normal" text-anchor="start" textLength="75.2" lengthAdjust="spacingAndGlyphs" >450000</text>
<text x="34.1" y="1211.4" font-size="23.00" fill="#111" font-weight="normal" text-anchor="start" textLength="75.2" lengthAdjust="spacingAndGlyphs" >400000</text>
<text x="34.1" y="1266.5" font-size="23.00" fill="#111" font-weight="normal" text-anchor="start" textLength="75.2" lengthAdjust="spacingAndGlyphs" >350000</text>
<text x="34.1" y="1321.6" font-size="23.00" fill="#111" font-weight="normal" text-anchor="start" textLength="75.2" lengthAdjust="spacingAndGlyphs" >300000</text>
<text x="34.1" y="1376.8" font-size="23.00" fill="#111" font-weight="normal" text-anchor="start" textLength="75.2" lengthAdjust="spacingAndGlyphs" >250000</text>
<text x="34.1" y="1431.9" font-size="23.00" fill="#111" font-weight="normal" text-anchor="start" textLength="75.2" lengthAdjust="spacingAndGlyphs" >200000</text>
<text x="34.1" y="1487.0" font-size="23.00" fill="#111" font-weight="normal" text-anchor="start" textLength="75.2" lengthAdjust="spacingAndGlyphs" >150000</text>
<text x="34.1" y="1542.1" font-size="23.00" fill="#111" font-weight="normal" text-anchor="start" textLength="75.2" lengthAdjust="spacingAndGlyphs" >100000</text>
<text x="46.6" y="1597.3" font-size="23.00" fill="#111" font-weight="normal" text-anchor="start" textLength="62.6" lengthAdjust="spacingAndGlyphs" >50000</text>
<text x="46.7" y="1652.0" font-size="23.00" fill="#111" font-weight="normal" text-anchor="start" textLength="62.6" lengthAdjust="spacingAndGlyphs" >10000</text>
<text x="97.3" y="1675.5" font-size="23.00" fill="#111" font-weight="normal" text-anchor="start" textLength="12.0" lengthAdjust="spacingAndGlyphs" >0</text>
<line x1="141.2" y1="518" x2="141.2" y2="1712" stroke="#111" stroke-width="5" stroke-dasharray="0 9.75" stroke-linecap="round"/>
<line x1="127.5" y1="1679" x2="1612" y2="1679" stroke="#111" stroke-width="5" stroke-dasharray="0 9.8" stroke-linecap="round"/>
<line x1="264.1" y1="1685" x2="264.1" y2="1709" stroke="#5f5f5f" stroke-width="1.6"/>
<line x1="387.7" y1="1685" x2="387.7" y2="1709" stroke="#5f5f5f" stroke-width="1.6"/>
<line x1="512.6" y1="1685" x2="512.6" y2="1709" stroke="#5f5f5f" stroke-width="1.6"/>
<line x1="634.4" y1="1685" x2="634.4" y2="1709" stroke="#5f5f5f" stroke-width="1.6"/>
<line x1="758.3" y1="1685" x2="758.3" y2="1709" stroke="#5f5f5f" stroke-width="1.6"/>
<line x1="881.8" y1="1685" x2="881.8" y2="1709" stroke="#5f5f5f" stroke-width="1.6"/>
<line x1="1003.9" y1="1685" x2="1003.9" y2="1709" stroke="#5f5f5f" stroke-width="1.6"/>
<line x1="1126.7" y1="1685" x2="1126.7" y2="1709" stroke="#5f5f5f" stroke-width="1.6"/>
<line x1="1249.6" y1="1685" x2="1249.6" y2="1709" stroke="#5f5f5f" stroke-width="1.6"/>
<line x1="1371.7" y1="1685" x2="1371.7" y2="1709" stroke="#5f5f5f" stroke-width="1.6"/>
<line x1="1492.6" y1="1685" x2="1492.6" y2="1709" stroke="#5f5f5f" stroke-width="1.6"/>
<text x="180.6" y="1712.8" font-size="25.20" fill="#111" font-weight="bold" text-anchor="start" textLength="40.4" lengthAdjust="spacingAndGlyphs" >MARS</text>
<text x="186.2" y="1734.2" font-size="23.20" fill="#9d9d9c" font-weight="normal" text-anchor="start" textLength="29.2" lengthAdjust="spacingAndGlyphs" stroke="#9d9d9c" stroke-width="0.35">2020</text>
<text x="311.4" y="1712.8" font-size="25.20" fill="#111" font-weight="bold" text-anchor="start" textLength="27.0" lengthAdjust="spacingAndGlyphs" >MAI</text>
<text x="310.3" y="1734.2" font-size="23.20" fill="#9d9d9c" font-weight="normal" text-anchor="start" textLength="29.2" lengthAdjust="spacingAndGlyphs" stroke="#9d9d9c" stroke-width="0.35">2020</text>
<text x="422.6" y="1712.8" font-size="25.20" fill="#111" font-weight="bold" text-anchor="start" textLength="52.4" lengthAdjust="spacingAndGlyphs" >JUILLET</text>
<text x="434.2" y="1734.2" font-size="23.20" fill="#9d9d9c" font-weight="normal" text-anchor="start" textLength="29.2" lengthAdjust="spacingAndGlyphs" stroke="#9d9d9c" stroke-width="0.35">2020</text>
<text x="532.5" y="1712.8" font-size="25.20" fill="#111" font-weight="bold" text-anchor="start" textLength="80.9" lengthAdjust="spacingAndGlyphs" >SEPTEMBRE</text>
<text x="558.3" y="1734.2" font-size="23.20" fill="#9d9d9c" font-weight="normal" text-anchor="start" textLength="29.2" lengthAdjust="spacingAndGlyphs" stroke="#9d9d9c" stroke-width="0.35">2020</text>
<text x="658.4" y="1712.8" font-size="25.20" fill="#111" font-weight="bold" text-anchor="start" textLength="77.1" lengthAdjust="spacingAndGlyphs" >NOVEMBRE</text>
<text x="682.3" y="1734.2" font-size="23.20" fill="#9d9d9c" font-weight="normal" text-anchor="start" textLength="29.2" lengthAdjust="spacingAndGlyphs" stroke="#9d9d9c" stroke-width="0.35">2020</text>
<text x="792.3" y="1712.8" font-size="25.20" fill="#111" font-weight="bold" text-anchor="start" textLength="56.8" lengthAdjust="spacingAndGlyphs" >JANVIER</text>
<text x="806.1" y="1734.2" font-size="23.20" fill="#9d9d9c" font-weight="normal" text-anchor="start" textLength="29.2" lengthAdjust="spacingAndGlyphs" stroke="#9d9d9c" stroke-width="0.35">2021</text>
<text x="924.3" y="1712.8" font-size="25.20" fill="#111" font-weight="bold" text-anchor="start" textLength="41.0" lengthAdjust="spacingAndGlyphs" >MARS</text>
<text x="930.2" y="1734.2" font-size="23.20" fill="#9d9d9c" font-weight="normal" text-anchor="start" textLength="29.2" lengthAdjust="spacingAndGlyphs" stroke="#9d9d9c" stroke-width="0.35">2021</text>
<text x="1055.0" y="1712.8" font-size="25.20" fill="#111" font-weight="bold" text-anchor="start" textLength="28.5" lengthAdjust="spacingAndGlyphs" >MAI</text>
<text x="1054.7" y="1734.2" font-size="23.20" fill="#9d9d9c" font-weight="normal" text-anchor="start" textLength="29.2" lengthAdjust="spacingAndGlyphs" stroke="#9d9d9c" stroke-width="0.35">2021</text>
<text x="1166.7" y="1712.8" font-size="25.20" fill="#111" font-weight="bold" text-anchor="start" textLength="52.8" lengthAdjust="spacingAndGlyphs" >JUILLET</text>
<text x="1178.5" y="1734.2" font-size="23.20" fill="#9d9d9c" font-weight="normal" text-anchor="start" textLength="29.2" lengthAdjust="spacingAndGlyphs" stroke="#9d9d9c" stroke-width="0.35">2021</text>
<text x="1298.0" y="1712.8" font-size="25.20" fill="#111" font-weight="bold" text-anchor="start" textLength="37.1" lengthAdjust="spacingAndGlyphs" >AOÛT</text>
<text x="1301.9" y="1734.2" font-size="23.20" fill="#9d9d9c" font-weight="normal" text-anchor="start" textLength="29.2" lengthAdjust="spacingAndGlyphs" stroke="#9d9d9c" stroke-width="0.35">2021</text>
<text x="1393.9" y="1712.8" font-size="25.20" fill="#111" font-weight="bold" text-anchor="start" textLength="83.0" lengthAdjust="spacingAndGlyphs" >SEPTEMBRE</text>
<text x="1420.8" y="1734.2" font-size="23.20" fill="#9d9d9c" font-weight="normal" text-anchor="start" textLength="29.2" lengthAdjust="spacingAndGlyphs" stroke="#9d9d9c" stroke-width="0.35">2021</text>
<text x="1524.0" y="1712.8" font-size="25.20" fill="#111" font-weight="bold" text-anchor="start" textLength="64.7" lengthAdjust="spacingAndGlyphs" >OCTOBRE</text>
<text x="1541.7" y="1734.2" font-size="23.20" fill="#9d9d9c" font-weight="normal" text-anchor="start" textLength="29.2" lengthAdjust="spacingAndGlyphs" stroke="#9d9d9c" stroke-width="0.35">2021</text>
<text x="147.5" y="1766.7" font-size="23.50" fill="#111" font-weight="normal" text-anchor="start" textLength="13.2" lengthAdjust="spacingAndGlyphs" >9</text>
<text x="255.7" y="1766.7" font-size="23.50" fill="#111" font-weight="normal" text-anchor="start" textLength="23.5" lengthAdjust="spacingAndGlyphs" >01</text>
<text x="382.6" y="1766.7" font-size="23.50" fill="#111" font-weight="normal" text-anchor="start" textLength="22.8" lengthAdjust="spacingAndGlyphs" >01</text>
<text x="508.9" y="1766.7" font-size="23.50" fill="#111" font-weight="normal" text-anchor="start" textLength="23.2" lengthAdjust="spacingAndGlyphs" >01</text>
<text x="630.4" y="1766.7" font-size="23.50" fill="#111" font-weight="normal" text-anchor="start" textLength="23.8" lengthAdjust="spacingAndGlyphs" >01</text>
<text x="751.1" y="1766.7" font-size="23.50" fill="#111" font-weight="normal" text-anchor="start" textLength="24.2" lengthAdjust="spacingAndGlyphs" >01</text>
<text x="875.2" y="1766.7" font-size="23.50" fill="#111" font-weight="normal" text-anchor="start" textLength="24.2" lengthAdjust="spacingAndGlyphs" >01</text>
<text x="993.5" y="1766.7" font-size="23.50" fill="#111" font-weight="normal" text-anchor="start" textLength="24.1" lengthAdjust="spacingAndGlyphs" >01</text>
<text x="1122.9" y="1766.7" font-size="23.50" fill="#111" font-weight="normal" text-anchor="start" textLength="24.9" lengthAdjust="spacingAndGlyphs" >01</text>
<text x="1244.4" y="1766.7" font-size="23.50" fill="#111" font-weight="normal" text-anchor="start" textLength="24.8" lengthAdjust="spacingAndGlyphs" >01</text>
<text x="1371.1" y="1766.7" font-size="23.50" fill="#111" font-weight="normal" text-anchor="start" textLength="24.2" lengthAdjust="spacingAndGlyphs" >01</text>
<text x="1498.0" y="1766.7" font-size="23.50" fill="#111" font-weight="normal" text-anchor="start" textLength="26.1" lengthAdjust="spacingAndGlyphs" >12</text>
<path d="M153.7,1681.2 C159.3,1681.3 176.8,1681.8 187.2,1681.7 C197.5,1681.7 206.3,1681.4 215.8,1680.9 C225.3,1680.4 236.4,1679.7 244.4,1678.9 C252.4,1678.2 256.5,1677.4 263.6,1676.4 C270.8,1675.5 278.6,1674.7 287.3,1673.2 C296.0,1671.7 306.4,1669.5 315.9,1667.4 C325.4,1665.4 335.0,1663.3 344.5,1660.9 C354.0,1658.5 365.9,1655.1 373.1,1653.1 C380.4,1651.1 380.9,1651.1 388.0,1648.7 C395.1,1646.3 406.6,1642.3 416.0,1638.8 C425.4,1635.2 435.1,1631.5 444.6,1627.4 C454.1,1623.3 464.6,1618.3 473.2,1614.0 C481.8,1609.7 489.7,1605.3 496.1,1601.7 C502.5,1598.1 508.0,1595.0 511.7,1592.3 C515.4,1589.6 514.1,1590.0 518.3,1585.5 C522.4,1581.0 530.5,1572.6 536.6,1565.4 C542.7,1558.2 548.8,1550.3 554.9,1542.5 C561.0,1534.7 567.1,1527.1 573.2,1518.7 C579.3,1510.3 585.4,1501.2 591.5,1492.2 C597.6,1483.2 604.0,1473.4 609.8,1464.7 C615.6,1456.0 622.1,1446.3 626.3,1440.0 C630.5,1433.7 631.9,1432.1 635.0,1426.9 C638.1,1421.7 639.7,1418.4 644.8,1408.8 C649.9,1399.2 656.8,1387.1 665.4,1369.3 C674.0,1351.5 686.0,1324.0 696.3,1302.0 C706.6,1280.0 717.3,1256.7 727.2,1237.0 C737.1,1217.3 749.5,1194.7 755.5,1183.9 C761.5,1173.1 760.8,1175.8 763.2,1172.3 C765.7,1168.8 767.6,1166.0 770.2,1163.0 C772.8,1160.0 775.6,1157.0 778.7,1154.3 C781.8,1151.5 785.1,1149.1 789.0,1146.5 C792.9,1143.9 797.5,1141.1 801.8,1138.8 C806.1,1136.5 810.4,1134.3 814.7,1132.4 C819.0,1130.5 823.3,1128.8 827.6,1127.2 C831.9,1125.6 836.2,1124.0 840.5,1122.6 C844.8,1121.2 849.0,1120.2 853.3,1119.0 C857.6,1117.8 861.5,1116.7 866.2,1115.4 C870.9,1114.1 875.3,1112.5 881.7,1111.0 C888.1,1109.5 896.8,1108.2 904.8,1106.6 C912.8,1105.0 922.5,1103.1 930.0,1101.5 C937.5,1099.9 942.4,1098.9 950.0,1097.2 C957.6,1095.5 966.7,1093.3 975.7,1091.5 C984.7,1089.7 995.5,1087.6 1004.1,1086.2 C1012.7,1084.8 1019.1,1084.0 1027.2,1083.0 C1035.4,1082.0 1044.4,1081.2 1053.0,1080.4 C1061.6,1079.6 1070.1,1079.0 1078.7,1077.9 C1087.3,1076.8 1096.5,1075.4 1104.5,1074.0 C1112.5,1072.6 1120.6,1071.0 1127.0,1069.3 C1133.4,1067.6 1137.4,1066.1 1143.1,1063.7 C1148.8,1061.3 1155.5,1057.9 1161.1,1054.7 C1166.7,1051.5 1171.4,1048.5 1176.6,1044.4 C1181.8,1040.3 1186.8,1035.4 1192.0,1030.2 C1197.2,1025.0 1202.8,1018.9 1207.5,1013.5 C1212.2,1008.1 1216.0,1003.6 1220.3,998.0 C1224.6,992.4 1229.0,986.5 1233.2,980.0 C1237.4,973.5 1241.3,966.1 1245.6,959.0 C1249.9,951.9 1254.6,944.5 1259.0,937.5 C1263.4,930.5 1267.5,923.8 1271.8,916.9 C1276.1,910.0 1280.4,903.2 1284.7,896.3 C1289.0,889.4 1292.9,883.0 1297.6,875.7 C1302.3,868.4 1307.6,860.6 1313.0,852.6 C1318.4,844.6 1325.2,835.3 1330.2,828.0 C1335.2,820.7 1336.7,817.3 1343.1,809.0 C1349.5,800.7 1360.2,787.8 1368.8,778.0 C1377.4,768.2 1386.0,759.0 1394.6,750.0 C1403.2,741.0 1411.7,732.1 1420.3,724.0 C1428.9,715.9 1437.5,707.9 1446.1,701.4 C1454.7,694.9 1463.2,689.4 1471.8,685.0 C1480.4,680.6 1491.5,677.0 1497.6,675.0 C1503.7,673.0 1506.5,673.1 1508.3,672.7" fill="none" stroke="#0a0a0a" stroke-width="4.4" stroke-linecap="round"/>
<circle cx="153.9" cy="1681.4" r="9" fill="#e6332a"/>
<circle cx="263.4" cy="1676.2" r="9" fill="#e6332a"/>
<circle cx="387.7" cy="1648.4" r="9" fill="#e6332a"/>
<circle cx="511.4" cy="1592.4" r="9" fill="#e6332a"/>
<circle cx="635" cy="1426.9" r="9" fill="#e6332a"/>
<circle cx="770.1" cy="1162.9" r="9" fill="#e6332a"/>
<circle cx="881.7" cy="1110.8" r="9" fill="#e6332a"/>
<circle cx="1004.1" cy="1086.2" r="9" fill="#e6332a"/>
<circle cx="1127" cy="1069.3" r="9" fill="#e6332a"/>
<circle cx="1245.6" cy="959" r="9" fill="#e6332a"/>
<circle cx="1508.3" cy="672.7" r="9" fill="#e6332a"/>
<circle cx="153.2" cy="1635.4" r="33.3" fill="#003a85"/>
<text x="132.6" y="1617.9" font-size="9.50" fill="#fff" font-weight="normal" text-anchor="start" textLength="37.8" lengthAdjust="spacingAndGlyphs" stroke="#fff" stroke-width="0.3">au 9 mars</text>
<text x="145.8" y="1652.7" font-size="39.61" fill="#fff" font-weight="bold" text-anchor="start" textLength="15.3" lengthAdjust="spacingAndGlyphs" stroke="#fff" stroke-width="0.16" stroke-linejoin="round" word-spacing="-5.1" >2</text>
<circle cx="263.4" cy="1630.2" r="33.3" fill="#003a85"/>
<text x="244.9" y="1612.0" font-size="9.50" fill="#fff" font-weight="normal" text-anchor="start" textLength="37.1" lengthAdjust="spacingAndGlyphs" stroke="#fff" stroke-width="0.3">au 01 mai</text>
<text x="238.0" y="1644.1" font-size="37.50" fill="#fff" font-weight="bold" text-anchor="start" textLength="51.0" lengthAdjust="spacingAndGlyphs" stroke="#fff" stroke-width="0.15" stroke-linejoin="round" word-spacing="-4.9" >4569</text>
<circle cx="387.7" cy="1565.5" r="33.2" fill="#003a85"/>
<text x="365.2" y="1547.5" font-size="9.50" fill="#fff" font-weight="normal" text-anchor="start" textLength="47.3" lengthAdjust="spacingAndGlyphs" stroke="#fff" stroke-width="0.3">au 01 Juillet</text>
<text x="359.5" y="1579.1" font-size="35.53" fill="#fff" font-weight="bold" text-anchor="start" textLength="57.8" lengthAdjust="spacingAndGlyphs" stroke="#fff" stroke-width="0.14" stroke-linejoin="round" word-spacing="-4.6" >12636</text>
<circle cx="511.8" cy="1510.3" r="33.2" fill="#003a85"/>
<text x="486.6" y="1491.0" font-size="8.50" fill="#fff" font-weight="normal" text-anchor="start" textLength="50.0" lengthAdjust="spacingAndGlyphs" stroke="#fff" stroke-width="0.3">au01 septembre</text>
<text x="483.8" y="1524.5" font-size="36.52" fill="#fff" font-weight="bold" text-anchor="start" textLength="56.9" lengthAdjust="spacingAndGlyphs" stroke="#fff" stroke-width="0.15" stroke-linejoin="round" word-spacing="-4.7" >63781</text>
<circle cx="597.5" cy="1393.3" r="33.2" fill="#003a85"/>
<text x="573.5" y="1375.0" font-size="8.50" fill="#fff" font-weight="normal" text-anchor="start" textLength="48.5" lengthAdjust="spacingAndGlyphs" stroke="#fff" stroke-width="0.3">au01 novembre</text>
<text x="564.7" y="1405.7" font-size="34.97" fill="#fff" font-weight="bold" text-anchor="start" textLength="65.7" lengthAdjust="spacingAndGlyphs" stroke="#fff" stroke-width="0.14" stroke-linejoin="round" word-spacing="-4.5" >222544</text>
<circle cx="727.7" cy="1140" r="33" fill="#003a85"/>
<text x="710.0" y="1120.6" font-size="8.00" fill="#fff" font-weight="normal" text-anchor="start" textLength="35.7" lengthAdjust="spacingAndGlyphs" stroke="#fff" stroke-width="0.3">au01 janvier</text>
<text x="696.4" y="1151.6" font-size="33.71" fill="#fff" font-weight="bold" text-anchor="start" textLength="63.8" lengthAdjust="spacingAndGlyphs" stroke="#fff" stroke-width="0.13" stroke-linejoin="round" word-spacing="-4.4" >440970</text>
<circle cx="879.1" cy="1062.7" r="33" fill="#003a85"/>
<text x="863.2" y="1043.4" font-size="8.00" fill="#fff" font-weight="normal" text-anchor="start" textLength="32.2" lengthAdjust="spacingAndGlyphs" stroke="#fff" stroke-width="0.3">au01 mars</text>
<text x="846.6" y="1073.9" font-size="33.15" fill="#fff" font-weight="bold" text-anchor="start" textLength="64.6" lengthAdjust="spacingAndGlyphs" stroke="#fff" stroke-width="0.13" stroke-linejoin="round" word-spacing="-4.3" >483766</text>
<circle cx="1004.4" cy="1040" r="33" fill="#003a85"/>
<text x="991.1" y="1020.7" font-size="8.00" fill="#fff" font-weight="normal" text-anchor="start" textLength="26.6" lengthAdjust="spacingAndGlyphs" stroke="#fff" stroke-width="0.3">au01 mai</text>
<text x="976.2" y="1050.7" font-size="31.88" fill="#fff" font-weight="bold" text-anchor="start" textLength="56.4" lengthAdjust="spacingAndGlyphs" stroke="#fff" stroke-width="0.13" stroke-linejoin="round" word-spacing="-4.1" >511562</text>
<circle cx="1171.3" cy="1100" r="33" fill="#003a85"/>
<text x="1156.3" y="1080.7" font-size="8.00" fill="#fff" font-weight="normal" text-anchor="start" textLength="31.3" lengthAdjust="spacingAndGlyphs" stroke="#fff" stroke-width="0.3">au01 juillet</text>
<text x="1140.5" y="1110.8" font-size="31.88" fill="#fff" font-weight="bold" text-anchor="start" textLength="61.5" lengthAdjust="spacingAndGlyphs" stroke="#fff" stroke-width="0.13" stroke-linejoin="round" word-spacing="-4.1" >532150</text>
<circle cx="1206.9" cy="919.8" r="33" fill="#003a85"/>
<text x="1191.5" y="900.5" font-size="8.00" fill="#fff" font-weight="normal" text-anchor="start" textLength="31.3" lengthAdjust="spacingAndGlyphs" stroke="#fff" stroke-width="0.3">au01 Août</text>
<text x="1174.8" y="930.6" font-size="31.88" fill="#fff" font-weight="bold" text-anchor="start" textLength="63.7" lengthAdjust="spacingAndGlyphs" stroke="#fff" stroke-width="0.13" stroke-linejoin="round" word-spacing="-4.1" >629 717</text>
<circle cx="1574.5" cy="567.8" r="69" fill="#003a85"/>
<text x="1521.5" y="549.3" font-size="19.50" fill="#fff" font-weight="normal" text-anchor="start" textLength="109.4" lengthAdjust="spacingAndGlyphs" >au 12 Octobre</text>
<text x="1516.7" y="605.0" font-size="59.17" fill="#fff" font-weight="bold" text-anchor="start" textLength="113.8" lengthAdjust="spacingAndGlyphs" stroke="#fff" stroke-width="0.71" stroke-linejoin="round" word-spacing="-7.7" >939 922</text>
</svg>
</body></html>
